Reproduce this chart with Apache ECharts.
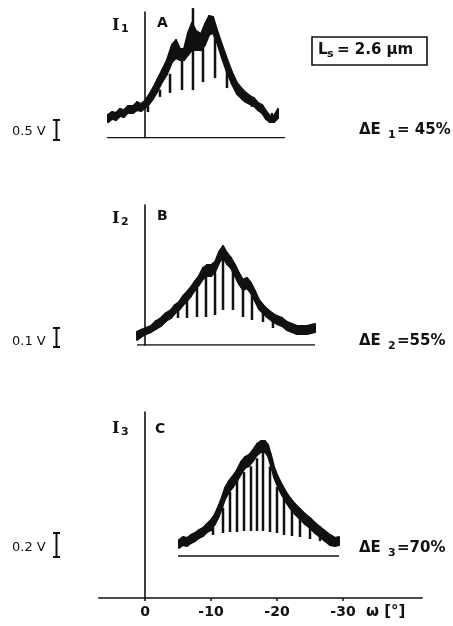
<!DOCTYPE html>
<html><head><meta charset="utf-8">
<script src="https://cdn.jsdelivr.net/npm/echarts@6/dist/echarts.min.js"></script>
<style>html,body{margin:0;padding:0;background:#fff}#c{width:453px;height:626px}</style>
</head><body><div id="c"></div>
<script>
// ---------- DATA ----------
const tickValues = [0, -10, -20, -30];
const tickLabels = ['0', '-10', '-20', '-30'];

// Panel A (volts, 0.5 V scale): upper and lower edge of the recorded trace
const aOmega = [5.61,5.0,4.39,3.79,3.18,2.58,1.82,1.21,0.61,0,-0.61,-1.21,-1.82,-2.58,-3.33,-4.09,-4.70,-5.30,-5.91,-6.52,-7.12,-7.73,-8.48,-9.09,-9.70,-10.30,-10.91,-11.67,-12.42,-13.18,-13.94,-14.70,-15.30,-15.91,-16.52,-17.12,-17.73,-18.33,-18.94,-19.55,-20.15];
const aUpper = [0.57,0.64,0.62,0.72,0.69,0.79,0.79,0.89,0.84,0.92,1.07,1.24,1.44,1.69,1.94,2.32,2.44,2.22,2.22,2.62,2.87,2.67,2.59,2.84,3.04,3.02,2.69,2.32,1.97,1.64,1.37,1.22,1.12,1.04,0.99,0.87,0.82,0.67,0.54,0.54,0.72];
const aLower = [0.39,0.47,0.44,0.54,0.52,0.62,0.62,0.69,0.67,0.74,0.84,0.97,1.14,1.39,1.59,1.89,1.99,1.94,1.94,2.07,2.19,2.19,2.19,2.32,2.57,2.62,2.39,1.99,1.64,1.34,1.09,0.97,0.89,0.84,0.79,0.69,0.62,0.47,0.39,0.39,0.49];
const aDipOmega = [-0.45,-2.27,-3.79,-5.61,-7.27,-8.79,-10.61,-12.42,-14.39,-16.21,-17.73,-19.24];
const aDipTop = [0.8,1.2,1.6,2.0,3.24,2.3,2.6,1.8,1.2,0.9,0.75,0.5];
const aDipBottom = [0.64,1.02,1.12,1.19,1.19,1.39,1.49,1.24,1.07,0.77,0.77,0.62];
const aBase = [5.76, -21.2];

// Panel B (volts, 0.1 V scale)
const bOmega = [1.21,0.61,-0.15,-0.91,-1.67,-2.42,-3.18,-3.94,-4.55,-5.15,-5.76,-6.36,-6.97,-7.58,-8.18,-8.79,-9.39,-10.0,-10.61,-11.21,-11.82,-12.42,-13.03,-13.64,-14.24,-14.85,-15.45,-16.06,-16.67,-17.27,-17.88,-18.48,-19.24,-20.0,-20.76,-21.52,-22.27,-23.03,-23.79,-24.55,-25.15,-25.76];
const bUpper = [0.065,0.075,0.085,0.095,0.12,0.135,0.16,0.175,0.20,0.215,0.245,0.265,0.29,0.32,0.345,0.385,0.40,0.40,0.415,0.465,0.495,0.46,0.435,0.40,0.36,0.325,0.335,0.31,0.27,0.225,0.20,0.18,0.16,0.145,0.135,0.115,0.105,0.095,0.095,0.095,0.10,0.105];
const bLower = [0.025,0.04,0.055,0.065,0.08,0.095,0.12,0.135,0.16,0.175,0.20,0.22,0.245,0.275,0.30,0.33,0.345,0.345,0.365,0.41,0.44,0.405,0.385,0.345,0.305,0.275,0.285,0.26,0.22,0.18,0.16,0.14,0.12,0.105,0.095,0.075,0.065,0.055,0.055,0.055,0.06,0.065];
const bDipOmega = [-5.0,-6.36,-7.88,-9.24,-10.61,-11.82,-13.33,-14.85,-16.21,-17.88,-19.39];
const bDipTop = [0.18,0.23,0.29,0.34,0.36,0.44,0.39,0.29,0.26,0.17,0.13];
const bDipBottom = [0.135,0.135,0.14,0.14,0.15,0.175,0.175,0.14,0.125,0.115,0.085];
const bBase = [1.21, -25.76];

// Panel C (volts, 0.2 V scale)
const cOmega = [-5.15,-5.76,-6.36,-6.97,-7.58,-8.18,-8.79,-9.39,-10.0,-10.61,-11.21,-11.67,-12.12,-12.73,-13.33,-13.94,-14.55,-15.15,-15.76,-16.36,-16.97,-17.58,-18.18,-18.64,-19.09,-19.55,-20.15,-20.76,-21.36,-21.97,-22.73,-23.48,-24.24,-25.0,-25.76,-26.52,-27.27,-28.03,-28.79,-29.39];
const cUpper = [0.139,0.165,0.157,0.183,0.20,0.226,0.244,0.278,0.313,0.365,0.444,0.513,0.592,0.653,0.696,0.748,0.818,0.861,0.879,0.922,0.974,1.0,1.0,0.966,0.879,0.774,0.687,0.618,0.557,0.505,0.452,0.409,0.365,0.331,0.287,0.252,0.218,0.183,0.157,0.165];
const cLower = [0.07,0.096,0.087,0.113,0.13,0.157,0.174,0.209,0.226,0.278,0.348,0.418,0.496,0.557,0.60,0.653,0.713,0.766,0.783,0.827,0.879,0.905,0.905,0.87,0.783,0.687,0.60,0.531,0.47,0.418,0.365,0.322,0.278,0.244,0.20,0.165,0.13,0.096,0.087,0.096];
const cDipOmega = [-6.82,-8.64,-10.3,-11.82,-12.88,-13.94,-15.0,-16.06,-16.97,-17.88,-18.94,-20.0,-21.06,-22.27,-23.48,-25.0,-26.52,-28.03];
const cDipTop = [0.14,0.18,0.25,0.42,0.56,0.66,0.73,0.78,0.85,0.9,0.78,0.6,0.5,0.42,0.33,0.25,0.17,0.12];
const cDipBottom = [0.13,0.165,0.183,0.2,0.209,0.209,0.218,0.218,0.218,0.218,0.209,0.2,0.183,0.174,0.165,0.148,0.13,0.113];
const cBase = [-5.0, -29.4];

// ---------- CHART ----------
const INK = '#111';
const zip3 = (xs, ys, zs) => xs.map((x, i) => [x, ys[i], zs[i]]);
const segs = (xs, lo, hi) => xs.slice(0, -1).map((x, i) => [x, lo[i], hi[i], xs[i + 1], lo[i + 1], hi[i + 1]]);

function dipRender(params, api) {
  const p1 = api.coord([api.value(0), api.value(1)]);
  const p2 = api.coord([api.value(0), api.value(2)]);
  return { type: 'line', shape: { x1: p1[0], y1: p1[1], x2: p2[0], y2: p2[1] },
           style: { stroke: INK, lineWidth: 2.5 } };
}
function bandRender(params, api) {
  const a = api.coord([api.value(0), api.value(1)]);
  const b = api.coord([api.value(0), api.value(2)]);
  const c = api.coord([api.value(3), api.value(5)]);
  const d = api.coord([api.value(3), api.value(4)]);
  return { type: 'polygon', shape: { points: [a, b, c, d] },
           style: { fill: INK, stroke: INK, lineWidth: 2, lineJoin: 'round' } };
}

const gridLeft = 98.8, gridWidth = 323.4;
const grids = [
  { left: gridLeft, width: gridWidth, top: 12, height: 125.7 },
  { left: gridLeft, width: gridWidth, top: 205, height: 140 },
  { left: gridLeft, width: gridWidth, top: 412, height: 186 }
];
const yRanges = [[0, 3.1425], [0, 0.70], [-0.3654, 1.2528]];

const hiddenX = (i) => ({
  type: 'value', gridIndex: i, min: -42, max: 7, inverse: true,
  axisLine: { show: false }, axisTick: { show: false }, axisLabel: { show: false }, splitLine: { show: false }
});
const xAxes = [hiddenX(0), hiddenX(1), {
  type: 'value', gridIndex: 2, min: -42, max: 7, inverse: true,
  axisLine: { show: true, onZero: false, lineStyle: { color: INK, width: 1.6 } },
  axisTick: { show: true, customValues: tickValues, length: 3, lineStyle: { color: INK, width: 1.5 } },
  axisLabel: { show: true, customValues: tickValues, margin: 7, color: INK,
               fontFamily: 'DejaVu Sans', fontSize: 14, fontWeight: 'bold',
               formatter: (v) => tickLabels[tickValues.indexOf(v)] },
  splitLine: { show: false }
}];
const yAxes = yRanges.map((r, i) => ({
  type: 'value', gridIndex: i, min: r[0], max: r[1],
  axisLine: { show: true, onZero: true, lineStyle: { color: INK, width: 1.6 } },
  axisTick: { show: false }, axisLabel: { show: false }, splitLine: { show: false }
}));

function panelSeries(i, om, lo, hi, dOm, dTop, dBot, base) {
  return [
    { type: 'line', xAxisIndex: i, yAxisIndex: i, data: [[base[0], 0], [base[1], 0]],
      symbol: 'none', silent: true, lineStyle: { color: INK, width: 1.6 } },
    { type: 'custom', xAxisIndex: i, yAxisIndex: i, renderItem: dipRender, clip: false, silent: true,
      data: zip3(dOm, dTop, dBot), encode: { x: 0, y: [1, 2] } },
    { type: 'custom', xAxisIndex: i, yAxisIndex: i, renderItem: bandRender, clip: false, silent: true,
      data: segs(om, lo, hi), encode: { x: [0, 3], y: [1, 2, 4, 5] } }
  ];
}

function txt(left, top, text, size, weight, family) {
  return { type: 'text', left: left, top: top, silent: true,
           style: { text: text, fill: INK, font: (weight || 'normal') + ' ' + size + 'px ' + (family || '"DejaVu Sans"') } };
}
function scaleBar(x, y1, y2) {
  return [
    { type: 'line', shape: { x1: x, y1: y1, x2: x, y2: y2 }, style: { stroke: INK, lineWidth: 2 } },
    { type: 'line', shape: { x1: x - 3.5, y1: y1, x2: x + 3.5, y2: y1 }, style: { stroke: INK, lineWidth: 2 } },
    { type: 'line', shape: { x1: x - 3.5, y1: y2, x2: x + 3.5, y2: y2 }, style: { stroke: INK, lineWidth: 2 } }
  ];
}

const graphics = [].concat(
  [
    txt(112, 18, 'I', 16, 'bold', '"DejaVu Serif"'), txt(121, 24, '1', 11, 'bold'), txt(157, 16, 'A', 14, 'bold'),
    txt(112, 211, 'I', 16, 'bold', '"DejaVu Serif"'), txt(121, 217, '2', 11, 'bold'), txt(157, 209, 'B', 14, 'bold'),
    txt(112, 421, 'I', 16, 'bold', '"DejaVu Serif"'), txt(121, 427, '3', 11, 'bold'), txt(155, 422, 'C', 14, 'bold'),
    txt(12, 125, '0.5 V', 13), txt(12, 335, '0.1 V', 13), txt(12, 541, '0.2 V', 13),
    txt(359, 123, 'ΔE', 15, 'bold'), txt(388, 130, '1', 11, 'bold'), txt(397, 123, '= 45%', 15, 'bold'),
    txt(359, 334, 'ΔE', 15, 'bold'), txt(388, 341, '2', 11, 'bold'), txt(397, 334, '=55%', 15, 'bold'),
    txt(359, 541, 'ΔE', 15, 'bold'), txt(388, 548, '3', 11, 'bold'), txt(397, 541, '=70%', 15, 'bold'),
    txt(366, 605, 'ω [°]', 15, 'bold'),
    { type: 'rect', shape: { x: 312, y: 37, width: 115, height: 28 }, style: { fill: 'none', stroke: INK, lineWidth: 1.6 } },
    txt(318, 43, 'L', 15, 'bold'), txt(327, 49, 's', 11, 'bold'), txt(337, 43, '= 2.6 μm', 15, 'bold')
  ],
  scaleBar(56.5, 120, 140), scaleBar(56.5, 328, 347), scaleBar(56.5, 533, 557)
);

const chart = echarts.init(document.getElementById('c'), null, { renderer: 'canvas' });
chart.setOption({
  animation: false,
  backgroundColor: '#fff',
  grid: grids,
  xAxis: xAxes,
  yAxis: yAxes,
  series: [].concat(
    panelSeries(0, aOmega, aLower, aUpper, aDipOmega, aDipTop, aDipBottom, aBase),
    panelSeries(1, bOmega, bLower, bUpper, bDipOmega, bDipTop, bDipBottom, bBase),
    panelSeries(2, cOmega, cLower, cUpper, cDipOmega, cDipTop, cDipBottom, cBase)
  ),
  graphic: graphics
});
</script></body></html>
